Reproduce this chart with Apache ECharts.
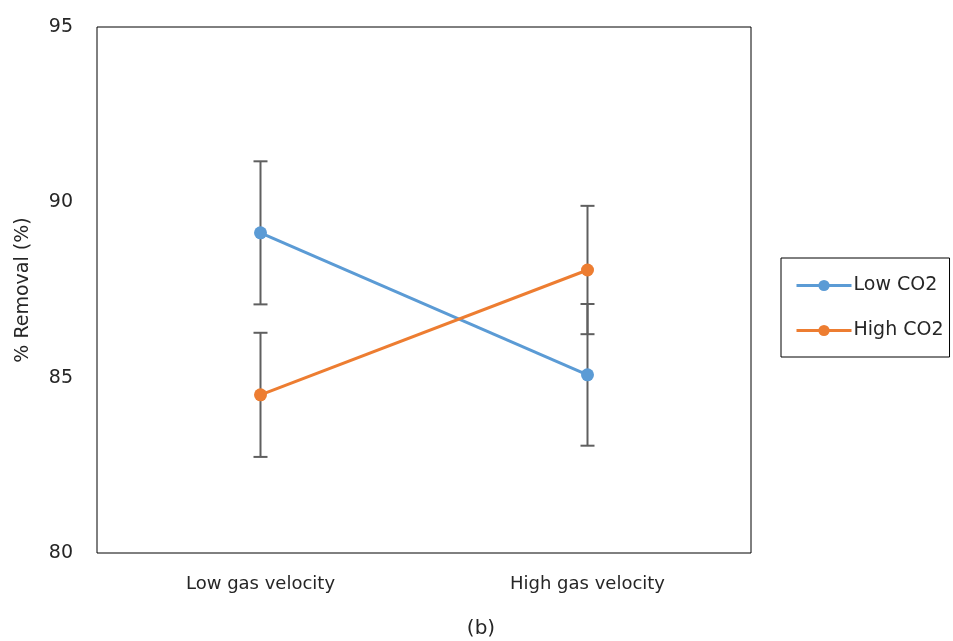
<!DOCTYPE html>
<html>
<head>
<meta charset="utf-8">
<style>
  html, body { margin: 0; padding: 0; background: #fff; }
  #chart { width: 953px; height: 641px; }
</style>
<script src="https://cdn.jsdelivr.net/npm/echarts@6/dist/echarts.min.js"></script>
</head>
<body>
<div id="chart"></div>
<script>
// Gas velocity levels on the x axis
const categories = ['Low gas velocity', 'High gas velocity'];

// Mean % removal for each CO2 level
const lowCO2 = [89.13, 85.08];
const highCO2 = [84.51, 88.07];

// Error bar half-widths (± around the mean)
const lowCO2Err = [2.04, 2.02];
const highCO2Err = [1.77, 1.83];

// Y axis ticks
const yTicks = [80, 85, 90, 95];

const FONT = 'DejaVu Sans';
const TEXT = '#262626';
const BLUE = '#5B9BD5';
const ORANGE = '#ED7D31';

function errorData(means, errs) {
  return means.map((m, i) => [i, m - errs[i], m + errs[i]]);
}

function renderErrorBar(params, api) {
  const x = api.value(0);
  const lo = api.coord([x, api.value(1)]);
  const hi = api.coord([x, api.value(2)]);
  const cap = 7;
  const style = { stroke: '#5f5f5f', lineWidth: 2 };
  return {
    type: 'group',
    children: [
      { type: 'line', shape: { x1: hi[0], y1: hi[1], x2: lo[0], y2: lo[1] }, style },
      { type: 'line', shape: { x1: hi[0] - cap, y1: hi[1], x2: hi[0] + cap, y2: hi[1] }, style },
      { type: 'line', shape: { x1: lo[0] - cap, y1: lo[1], x2: lo[0] + cap, y2: lo[1] }, style }
    ]
  };
}

const chart = echarts.init(document.getElementById('chart'));
chart.setOption({
  animation: false,
  backgroundColor: '#fff',
  textStyle: { fontFamily: FONT },
  grid: {
    left: 97, top: 27, width: 654, height: 526,
    show: true, borderColor: '#000', borderWidth: 1, backgroundColor: 'transparent'
  },
  title: {
    text: '(b)',
    left: 476, top: 614,
    textAlign: 'center',
    textStyle: { fontFamily: FONT, fontSize: 20, fontWeight: 'normal', color: TEXT }
  },
  legend: {
    orient: 'vertical',
    left: 781, top: 258,
    padding: [18, 6, 17, 14],
    itemGap: 26,
    itemWidth: 55, itemHeight: 14,
    borderColor: '#000', borderWidth: 1,
    lineStyle: { width: 3 },
    textStyle: { fontFamily: FONT, fontSize: 19, color: TEXT, padding: [0, 0, 0, -3] },
    data: ['Low CO2', 'High CO2']
  },
  xAxis: {
    type: 'category',
    data: categories,
    boundaryGap: true,
    axisLine: { show: false },
    axisTick: { show: false },
    axisLabel: { fontFamily: FONT, fontSize: 18, color: TEXT, margin: 22 }
  },
  yAxis: {
    type: 'value',
    min: yTicks[0], max: yTicks[yTicks.length - 1], interval: 5,
    name: '% Removal (%)',
    nameLocation: 'middle',
    nameGap: 64,
    nameRotate: 90,
    nameTextStyle: { fontFamily: FONT, fontSize: 19, color: TEXT },
    axisLine: { show: false },
    axisTick: { show: false },
    splitLine: { show: false },
    axisLabel: { fontFamily: FONT, fontSize: 19, color: TEXT, margin: 24 }
  },
  series: [
    {
      type: 'custom', name: 'Low CO2 err', renderItem: renderErrorBar,
      data: errorData(lowCO2, lowCO2Err), z: 1, silent: true,
      encode: { x: 0, y: [1, 2] }
    },
    {
      type: 'custom', name: 'High CO2 err', renderItem: renderErrorBar,
      data: errorData(highCO2, highCO2Err), z: 1, silent: true,
      encode: { x: 0, y: [1, 2] }
    },
    {
      name: 'Low CO2', type: 'line', data: lowCO2, z: 3,
      symbol: 'circle', symbolSize: 13,
      lineStyle: { color: BLUE, width: 3 },
      itemStyle: { color: BLUE }
    },
    {
      name: 'High CO2', type: 'line', data: highCO2, z: 3,
      symbol: 'circle', symbolSize: 13,
      lineStyle: { color: ORANGE, width: 3 },
      itemStyle: { color: ORANGE }
    }
  ]
});
</script>
</body>
</html>
